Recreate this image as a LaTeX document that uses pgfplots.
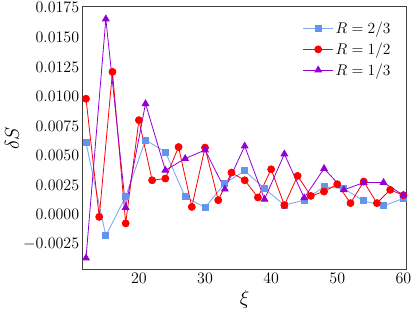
\RequirePackage{fix-cm}
\documentclass[border=0pt]{standalone}
\usepackage{pgfplots}
\pgfplotsset{compat=1.18}
\definecolor{cblue}{RGB}{100,149,237}
\definecolor{cviolet}{RGB}{148,0,211}
\begin{document}
\begin{tikzpicture}
\begin{axis}[
  name=ax,
  scale only axis,
  width=324pt, height=263pt,
  xmin=11.5, xmax=60.5,
  ymin=-0.00466, ymax=0.01756,
  xtick={20,30,40,50,60},
  ytick={-0.0025,0,0.0025,0.005,0.0075,0.01,0.0125,0.015,0.0175},
  scaled y ticks=false,
  yticklabel style={/pgf/number format/.cd, fixed, fixed zerofill, precision=4},
  tick label style={font=\fontsize{16}{16}\selectfont},
  major tick length=0pt,
  axis line style={draw=black!75, line width=1pt},
  xlabel={$\xi$}, ylabel={$\delta S$},
  label style={font=\fontsize{20}{20}\selectfont},
  xlabel style={at={(axis description cs:0.5,-0.114)}, anchor=center},
  ylabel style={at={(axis description cs:-0.2184,0.5)}, anchor=center},
  legend style={draw=none, fill=none, at={(1,1)}, anchor=north east,
    xshift=-11pt, yshift=-11pt, font=\fontsize{15.5}{15.5}\selectfont,
    row sep=3.5pt, cells={anchor=west}},
  legend image code/.code={\draw[mark repeat=2,mark phase=2] plot coordinates {(0pt,0pt) (15pt,0pt) (30pt,0pt)};},
]
\addplot[draw=cblue!80, line width=0.9pt, mark=square*, mark size=3pt,
  mark options={fill=cblue, draw=cblue, solid}] coordinates {
(12,0.0061) (15,-0.00177) (18,0.00155) (21,0.00632) (24,0.00531) (27,0.00152)
(30,0.00062) (33,0.00267) (36,0.00371) (39,0.00222) (42,0.00082) (45,0.00124)
(48,0.00236) (51,0.00222) (54,0.00118) (57,0.00076) (60,0.00138)};
\addlegendentry{$R=2/3$}
\addplot[draw=red, line width=0.8pt, mark=*, mark size=3.5pt,
  mark options={fill=red, draw=red, solid}] coordinates {
(12,0.00981) (14,-0.00017) (16,0.01208) (18,-0.00072) (20,0.0080) (22,0.00292)
(24,0.00307) (26,0.00573) (28,0.00067) (30,0.00568) (32,0.00124) (34,0.00357)
(36,0.00292) (38,0.00147) (40,0.00385) (42,0.00082) (44,0.00329) (46,0.0016)
(48,0.00197) (50,0.00259) (52,0.00099) (54,0.00281) (56,0.00099) (58,0.00211)
(60,0.00166)};
\addlegendentry{$R=1/2$}
\addplot[draw=cviolet, line width=0.8pt, mark=triangle*, mark size=3.8pt,
  mark options={fill=cviolet, draw=cviolet, solid}] coordinates {
(12,-0.00365) (15,0.01655) (18,0.00062) (21,0.00939) (24,0.00377) (27,0.00475)
(30,0.00548) (33,0.00217) (36,0.00581) (39,0.00132) (42,0.00514) (45,0.00143)
(48,0.00391) (51,0.00211) (54,0.00273) (57,0.00273) (60,0.00166)};
\addlegendentry{$R=1/3$}
\end{axis}
\pgfresetboundingbox
\path[use as bounding box] ([shift={(-82.7pt,-43pt)}]ax.south west) rectangle ([shift={(8.3pt,7pt)}]ax.north east);
\end{tikzpicture}
\end{document}
